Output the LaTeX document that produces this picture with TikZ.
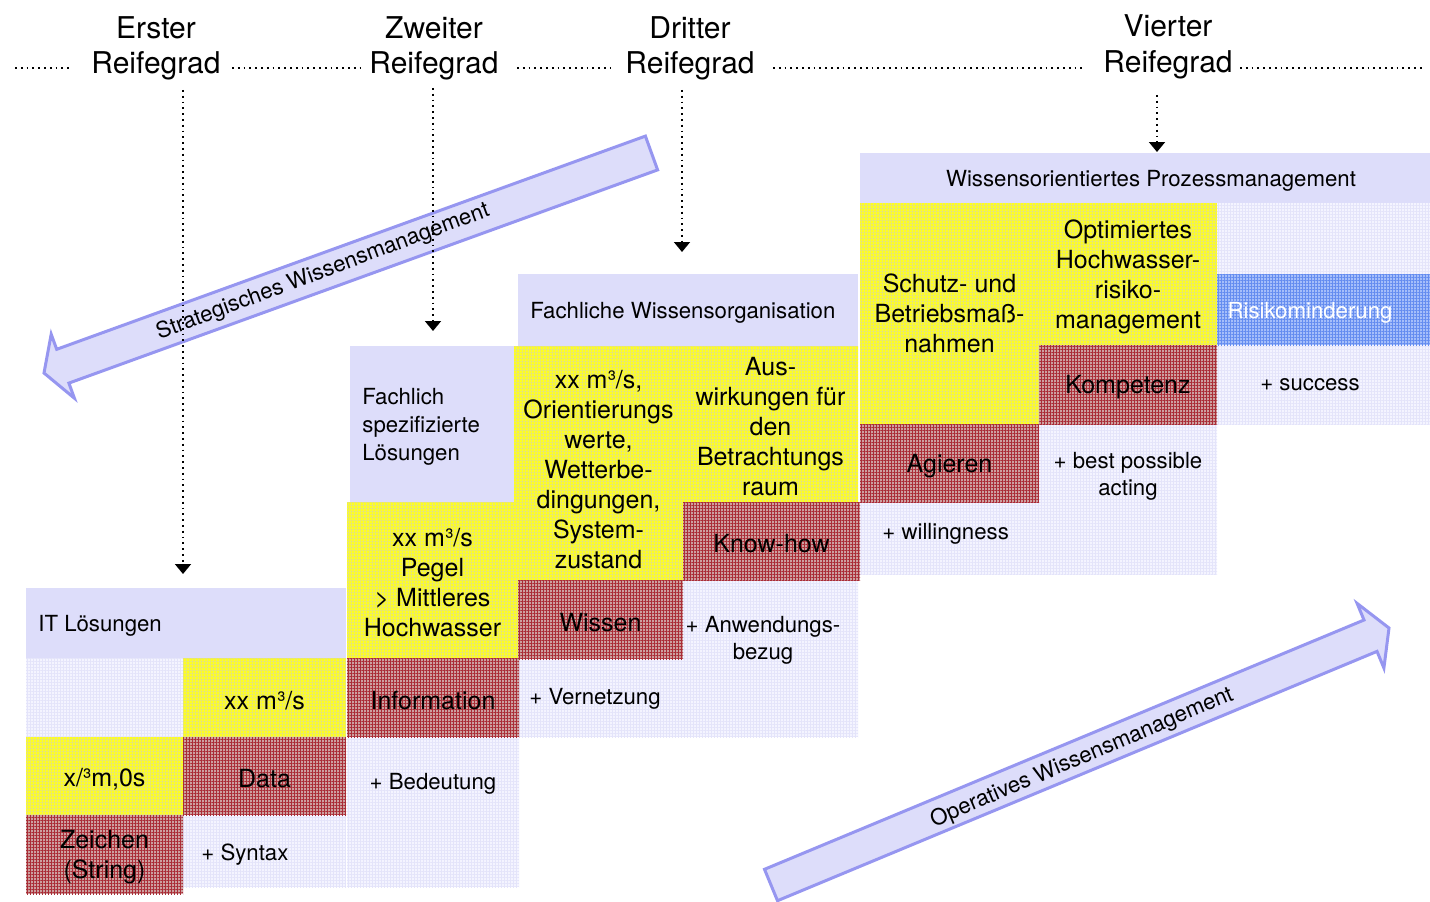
\documentclass[tikz,border=0pt]{standalone}
\usepackage{fontspec}
\setmainfont{TeX Gyre Heros}
\usetikzlibrary{fit,patterns.meta,arrows.meta}
\definecolor{hdr}{RGB}{221,221,250}
\definecolor{lbase}{RGB}{244,244,255}
\definecolor{lline}{RGB}{228,228,250}
\definecolor{ybase}{RGB}{255,255,30}
\definecolor{yline}{RGB}{232,232,110}
\definecolor{rbase}{RGB}{205,160,160}
\definecolor{rline}{RGB}{170,45,55}
\definecolor{bbase}{RGB}{165,190,250}
\definecolor{bline}{RGB}{100,140,240}
\definecolor{arrline}{RGB}{150,150,240}
\tikzset{
  cell/.style={inner sep=0pt, outer sep=0pt},
  hdrbox/.style={cell, fill=hdr},
  lcell/.style={cell, fill=lbase, postaction={pattern={Hatch[angle=0,distance=1.5pt,line width=0.3pt]}, pattern color=lline}},
  ycell/.style={cell, fill=ybase, postaction={pattern={Hatch[angle=0,distance=1.5pt,line width=0.3pt]}, pattern color=yline}},
  rcell/.style={cell, fill=rbase, postaction={pattern={Hatch[angle=0,distance=1.5pt,line width=0.35pt]}, pattern color=rline}},
  bcell/.style={cell, fill=bbase, postaction={pattern={Hatch[angle=0,distance=1.5pt,line width=0.35pt]}, pattern color=bline}},
  ctext/.style={inner sep=0pt, align=center, yshift=-1.5pt, font=\fontsize{12.5}{15}\selectfont},
  small/.style={inner sep=0pt, align=center, yshift=-1.5pt, font=\fontsize{11.1}{13.5}\selectfont},
  smallL/.style={inner sep=0pt, align=left, yshift=-1.5pt, font=\fontsize{11.1}{14}\selectfont},
  arrtext/.style={inner sep=0pt, font=\fontsize{11.1}{13.5}\selectfont},
  lvl/.style={inner sep=0pt, anchor=base, font=\fontsize{15}{17.5}\selectfont},
  hdots/.style={dotted, line width=0.9pt},
  vdots/.style={dotted, line width=0.9pt, -{Triangle[width=8pt,length=5pt]}},
  bigarrow/.style={fill=hdr, draw=arrline, line width=1.5pt, line join=miter},
}
\begin{document}
\begin{tikzpicture}[x=0.5pt,y=-0.5pt]
\useasboundingbox (0,0) rectangle (1430,901);

% ---------- big arrows ----------
\draw[bigarrow] (645.4,136.1) -- (657.6,169.9) -- (68.9,383.1) -- (74.4,398.2)
  -- (44,373) -- (51.2,334.2) -- (56.7,349.3) -- cycle;
\node[arrtext, rotate=20.5] (strat) at (323,272) {Strategisches Wissensmanagement};

\draw[bigarrow] (764.5,869.3) -- (1364,620) -- (1357.1,603.4) -- (1389,628)
  -- (1383.9,668.0) -- (1377,651.4) -- (777.5,900.7) -- cycle;
\node[arrtext, rotate=23] (oper) at (1082,758) {Operatives Wissensmanagement};

% ---------- light cells ----------
\node[lcell, fit={(26,658)(183,737)}] (c1a) {};
\node[lcell, fit={(183,815)(346,887)}] (c1f) {};
\node[lcell, fit={(347,737)(519,887)}] (c2c) {};
\node[lcell, fit={(518,659)(683,737)}] (c3f) {};
\node[lcell, fit={(683,580)(858,737)}] (c3e) {};
\node[lcell, fit={(1217,203)(1430,274)}] (c4c) {};
\node[lcell, fit={(1217,345)(1430,424)}] (c4f) {};
\node[lcell, fit={(1039,424)(1217,502)}] (c4h) {};
\node[lcell, fit={(860,502)(1217,574)}] (c4i) {};

% ---------- yellow cells ----------
\node[ycell, fit={(183,658)(346,737)}] (c1b) {};
\node[ycell, fit={(26,737)(183,815)}] (c1c) {};
\node[ycell, fit={(347,502)(518,658)}] (c2a) {};
\node[ycell, fit={(514,346)(683,580)}] (c3a) {};
\node[ycell, fit={(683,346)(858,502)}] (c3b) {};
\node[ycell, fit={(860,203)(1039,424)}] (c4a) {};
\node[ycell, fit={(1039,203)(1217,345)}] (c4b) {};

% ---------- red cells ----------
\node[rcell, fit={(183,737)(346,815)}] (c1d) {};
\node[rcell, fit={(26,815)(183,894)}] (c1e) {};
\node[rcell, fit={(347,658)(519,737)}] (c2b) {};
\node[rcell, fit={(683,502)(860,580)}] (c3c) {};
\node[rcell, fit={(518,580)(683,659)}] (c3d) {};
\node[rcell, fit={(1039,345)(1217,424)}] (c4e) {};
\node[rcell, fit={(860,424)(1039,502)}] (c4g) {};

% ---------- blue cell ----------
\node[bcell, fit={(1217,274)(1430,345)}] (c4d) {};

% ---------- headers ----------
\node[hdrbox, fit={(26,588)(346,658)}] (hdr1) {};
\node[hdrbox, fit={(350,346)(514,502)}] (hdr2) {};
\node[hdrbox, fit={(518,274)(858,346)}] (hdr3) {};
\node[hdrbox, fit={(860,153)(1430,203)}] (hdr4) {};

% ---------- cell texts ----------
\node[ctext] (c1bt) at (c1b.center) {xx m³/s};
\node[ctext] (c1ct) at (c1c.center) {x/³m,0s};
\node[ctext] (c2at) at (c2a.center) {xx m³/s\\Pegel\\> Mittleres\\Hochwasser};
\node[ctext] (c3at) at ([yshift=-2pt]c3a.center) {xx m³/s,\\Orientierungs\\werte,\\Wetterbe-\\dingungen,\\System-\\zustand};
\node[ctext] (c3bt) at (c3b.center) {Aus-\\wirkungen für\\den\\Betrachtungs\\raum};
\node[ctext] (c4at) at ([yshift=1.5pt]c4a.center) {Schutz- und\\Betriebsmaß-\\nahmen};
\node[ctext] (c4bt) at (c4b.center) {Optimiertes\\Hochwasser-\\risiko-\\management};
\node[ctext] (c1dt) at (c1d.center) {Data};
\node[ctext] (c1et) at (c1e.center) {Zeichen\\(String)};
\node[ctext] (c2bt) at (c2b.center) {Information};
\node[ctext] (c3ct) at (c3c.center) {Know-how};
\node[ctext] (c3dt) at (c3d.center) {Wissen};
\node[ctext] (c4et) at (c4e.center) {Kompetenz};
\node[ctext] (c4gt) at (c4g.center) {Agieren};
\node[small, text=white] (c4dt) at (1310,310) {Risikominderung};

% ---------- header texts ----------
\node[smallL, anchor=west] (t1) at (38,623) {IT Lösungen};
\node[smallL, anchor=west] (t2) at (362,424) {Fachlich\\spezifizierte\\Lösungen};
\node[smallL, anchor=west] (t3) at (530,310) {Fachliche Wissensorganisation};
\node[small] (t4) at (1151,178) {Wissensorientiertes Prozessmanagement};

% ---------- small texts ----------
\node[small, anchor=west] (s1) at (201,852) {+ Syntax};
\node[small] (s2) at (433,781) {+ Bedeutung};
\node[small, anchor=west] (s3) at (529,696) {+ Vernetzung};
\node[small] (s4) at (763,637) {+ Anwendungs-\\bezug};
\node[small] (s5) at (1310,382) {+ success};
\node[small] (s6) at (1128,473) {+ best possible\\acting};
\node[small, anchor=west] (s7) at (882,531) {+ willingness};

% ---------- maturity levels ----------
\node[lvl] (l1a) at (156,38) {Erster};
\node[lvl] (l1) at (156,73) {Reifegrad};
\node[lvl] (l2a) at (434,38) {Zweiter};
\node[lvl] (l2) at (434,73) {Reifegrad};
\node[lvl] (l3a) at (690,38) {Dritter};
\node[lvl] (l3) at (690,73) {Reifegrad};
\node[lvl] (l4a) at (1168,36) {Vierter};
\node[lvl] (l4) at (1168,72) {Reifegrad};

\draw[hdots] (15,68) -- (72,68);
\draw[hdots] (232,68) -- (362,68);
\draw[hdots] (517,68) -- (610,68);
\draw[hdots] (773,68) -- (1085,68);
\draw[hdots] (1240,68) -- (1425,68);

\coordinate (a1) at (183,574);
\coordinate (a2) at (433,331);
\coordinate (a3) at (682,252);
\coordinate (a4) at (1157,152);
\draw[vdots] (l1.south -| a1) ++(0,10) -- (a1);
\draw[vdots] (l2.south -| a2) ++(0,8) -- (a2);
\draw[vdots] (l3.south -| a3) ++(0,10) -- (a3);
\draw[vdots] (l4.south -| a4) ++(0,16) -- (a4);
\end{tikzpicture}
\end{document}
